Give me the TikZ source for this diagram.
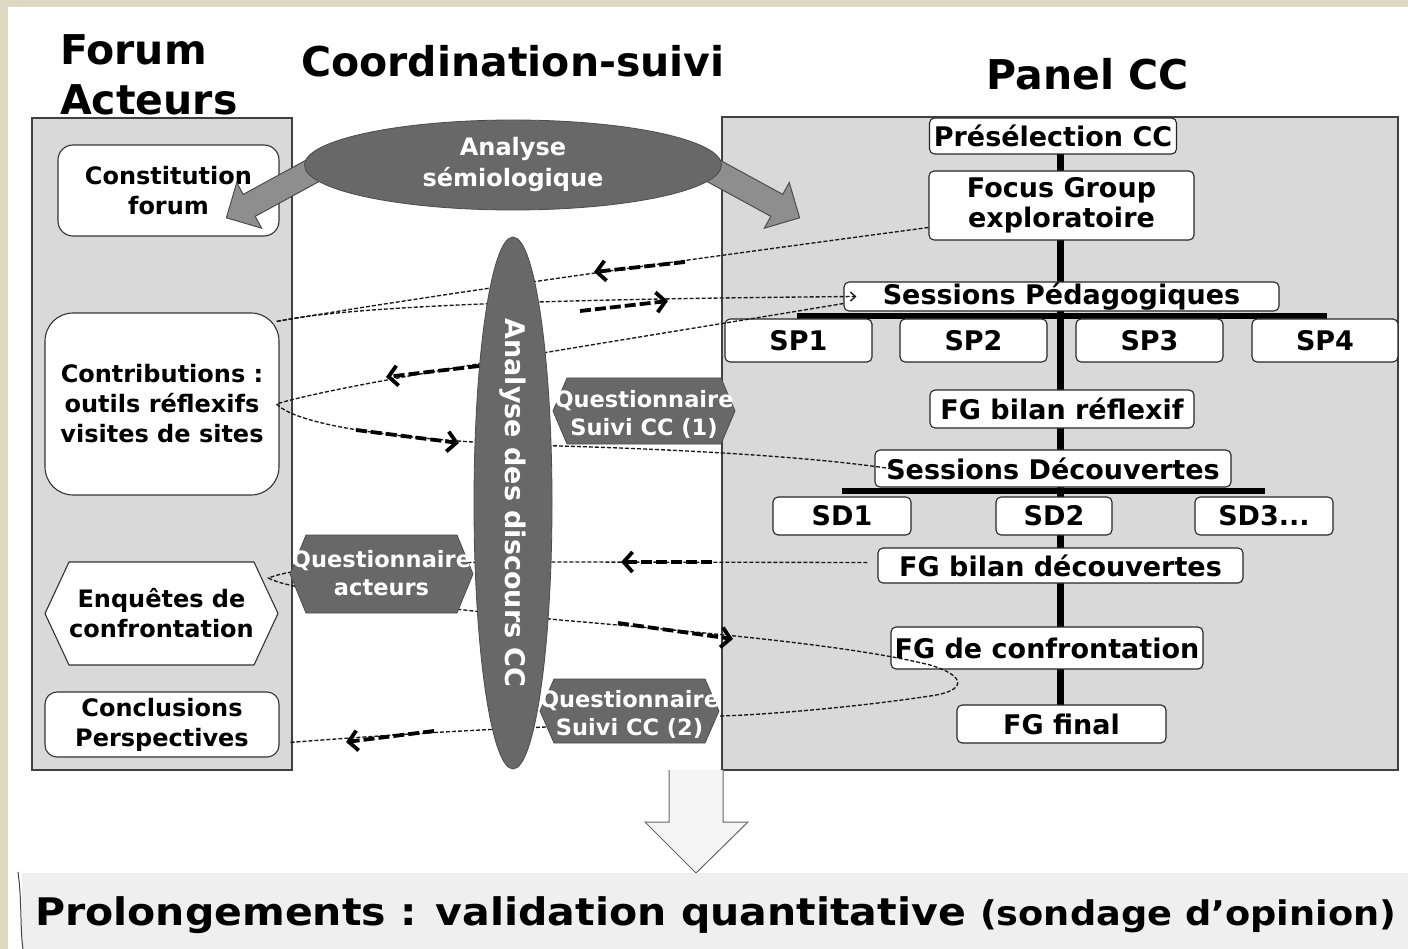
\documentclass[tikz,border=0pt]{standalone}
\usepackage{fontspec}
\setmainfont{DejaVu Sans}
\newfontfamily\widefont[FakeStretch=1.08]{DejaVu Sans}
\usetikzlibrary{shapes.geometric,arrows.meta}
\definecolor{beige}{HTML}{DDD9C3}
\definecolor{panelgray}{HTML}{D9D9D9}
\definecolor{darkfill}{HTML}{686868}
\definecolor{arrowgray}{HTML}{8E8E8E}
\definecolor{bannergray}{HTML}{EFEFEF}
\newcommand{\fsz}[2]{\fontsize{#1}{#2}\selectfont}
\newcommand{\hexat}[6]{\path[#1] ({#2-#4},#3) -- ({#2-#4+#6},{#3-#5}) -- ({#2+#4-#6},{#3-#5}) -- ({#2+#4},#3) -- ({#2+#4-#6},{#3+#5}) -- ({#2-#4+#6},{#3+#5}) -- cycle;}
\begin{document}
\begin{tikzpicture}[x=1pt,y=-1pt,
  panel/.style={draw=black!75, fill=panelgray, line width=1.3pt},
  rbox/.style={draw=black!85, fill=white, rounded corners=5pt, line width=1.1pt, inner sep=0pt, align=center, font=\fsz{27}{30}\bfseries},
  lbox/.style={draw=black!80, fill=white, line width=1.1pt, inner sep=0pt, align=center, font=\fsz{24}{30}\bfseries},
  darkshape/.style={fill=darkfill, draw=black!70, line width=0.8pt},
  whitetxt/.style={text=white, font=\fsz{24}{31}\bfseries, align=center, inner sep=0pt},
  qtxt/.style={text=white, font=\fsz{22.5}{28}\bfseries, align=center, inner sep=0pt},
  thread/.style={draw=black!90, line width=1.35pt, dash pattern=on 4pt off 2pt},
  fatarrow/.style={draw=black, line width=3.8pt, dash pattern=on 11pt off 4pt, -{Straight Barb[length=9pt,width=20pt]}},
  garrow/.style={fill=arrowgray, draw=black!70, line width=1pt},
  trunk/.style={line width=7pt, draw=black},
  bar/.style={line width=6pt, draw=black},
  title/.style={font=\fsz{41}{50}\bfseries, inner sep=0pt}
]
\useasboundingbox (0,0) rectangle (1408,949);
\fill[white] (0,0) rectangle (1408,949);
\fill[beige] (0,0) rectangle (1408,7);
\fill[beige] (0,0) rectangle (8,949);

% titles
\node[title, anchor=north west, align=left] (tforum) at (60,34) {Forum\\Acteurs};
\node[title, anchor=base] (tcoord) at (513,77) {Coordination-suivi};
\node[title, anchor=base] (tpanel) at (1088,90) {Panel CC};

% panels
\draw[panel] (32,118) rectangle (292,770);
\draw[panel] (722,117) rectangle (1398,770);

% bottom banner and down arrow
\fill[bannergray] (22,873) rectangle (1408,949);
\draw[black!75, line width=1pt] (18,872) .. controls (22,900) and (20,930) .. (23,949);
\fill[bannergray!60!white] (669,770) -- (669,822) -- (645,822) -- (696,873) -- (748,822) -- (723,822) -- (723,770) -- cycle;
\draw[black!60, line width=1pt] (669,770) -- (669,822) -- (645,822) -- (696,873) -- (748,822) -- (723,822) -- (723,770);
\node[anchor=base west, inner sep=0pt] (prol) at (35,925) {\widefont\bfseries\fsz{38}{40}Prolongements : validation quantitative \fsz{34}{40}(sondage d’opinion)};

% tree lines
\coordinate (trunkx) at (1060,0);
\draw[trunk] (trunkx |- 0,154) -- (trunkx |- 0,705);
\draw[bar] (797,316) -- (1327,316);
\draw[bar] (842,491) -- (1265,491);

% right boxes
\node[rbox, minimum width=247pt, minimum height=36pt] (pre) at (1053,136) {Présélection CC};
\node[rbox, minimum width=265pt, minimum height=69pt] (fge) at (1061.5,205.5) {Focus Group\\exploratoire};
\node[rbox, minimum width=435pt, minimum height=29pt] (sp) at (1061.5,296.5) {Sessions Pédagogiques};
\node[rbox, minimum width=147pt, minimum height=43pt] (sp1) at (798.5,340.5) {SP1};
\node[rbox, minimum width=147pt, minimum height=43pt] (sp2) at (973.5,340.5) {SP2};
\node[rbox, minimum width=147pt, minimum height=43pt] (sp3) at (1149.5,340.5) {SP3};
\node[rbox, minimum width=146pt, minimum height=43pt] (sp4) at (1325,340.5) {SP4};
\node[rbox, minimum width=264pt, minimum height=38pt] (fgbr) at (1062,409) {FG bilan réflexif};
\node[rbox, minimum width=356pt, minimum height=37pt] (sd) at (1053,468.5) {Sessions Découvertes};
\node[rbox, minimum width=138pt, minimum height=38pt] (sd1) at (842,516) {SD1};
\node[rbox, minimum width=116pt, minimum height=38pt] (sd2) at (1054,516) {SD2};
\node[rbox, minimum width=138pt, minimum height=38pt] (sd3) at (1264,516) {SD3...};
\node[rbox, minimum width=365pt, minimum height=35pt] (fgbd) at (1060.5,565.5) {FG bilan découvertes};
\node[rbox, minimum width=312pt, minimum height=42pt] (fgc) at (1047,648) {FG de confrontation};
\node[rbox, minimum width=209pt, minimum height=38pt] (fgf) at (1061.5,724) {FG final};

% left boxes
\node[lbox, rounded corners=15pt, minimum width=221pt, minimum height=91pt] (cons) at (168.5,190.5) {Constitution\\forum};
\node[lbox, rounded corners=28pt, minimum width=234pt, minimum height=182pt] (contr) at (162,404) {Contributions :\\outils réflexifs\\visites de sites};
\hexat{draw=black!80, fill=white, line width=1.1pt}{161.5}{613.5}{116.5}{51.5}{24}
\node[lbox, draw=none, fill=none, minimum width=233pt, minimum height=103pt] (enq) at (161.5,613) {Enquêtes de\\confrontation};
\node[lbox, rounded corners=12pt, minimum width=234pt, minimum height=65pt] (concl) at (162,724.5) {Conclusions\\Perspectives};

% big gray arrows from semiological analysis
\begin{scope}[shift={(689,157.5)}, rotate=-28.6]
\draw[garrow] (0,12.5) -- (100,12.5) -- (100,26) -- (126,0) -- (100,-26) -- (100,-12.5) -- (0,-12.5) -- cycle;
\end{scope}
\begin{scope}[shift={(337,157.5)}, rotate=-151.4]
\draw[garrow] (0,12.5) -- (100,12.5) -- (100,26) -- (126,0) -- (100,-26) -- (100,-12.5) -- (0,-12.5) -- cycle;
\end{scope}
\node[ellipse, darkshape, minimum width=417pt, minimum height=90pt, inner sep=0pt] (sem) at (513,165) {};
\node[whitetxt] (semt) at (513,164) {Analyse\\sémiologique};

% thin dashed threads
\draw[thread] ([yshift=-22pt]fge.west) .. controls (700,258) and (450,292) .. ([shift={(-3pt,-9pt)}]contr.north east);
\draw[thread, -{Straight Barb[length=5pt,width=9pt]}] ([shift={(-3pt,-9pt)}]contr.north east) .. controls (350,306) and (550,299) .. ([xshift=13pt]sp.west);
\draw[thread] ([yshift=-7pt]sp.west) .. controls (600,344) and (340,384) .. ([xshift=-3pt]contr.east) .. controls (300,428) and (420,442) .. (560,446) .. controls (700,450) and (820,458) .. ([xshift=15pt]sd.west);
\draw[thread] ([shift={(-10pt,3pt)}]fgbd.west) -- (560,562) .. controls (400,562) and (300,565) .. ([shift={(-10pt,35pt)}]enq.east) .. controls (290,591) and (420,606) .. (560,620) .. controls (700,632) and (850,645) .. (930,665) .. controls (967,676) and (967,691) .. (930,696) .. controls (850,708) and (760,715) .. (720,716);
\draw[thread] (600,725) .. controls (450,730) and (350,738) .. ([shift={(9pt,-18pt)}]concl.east);

% vertical ellipse and questionnaires
\node[ellipse, darkshape, rotate=-90, minimum width=532pt, minimum height=78pt, inner sep=0pt, text=white, font=\fsz{27}{30}\bfseries] (disc) at (513,503) {Analyse des discours CC};
\hexat{darkshape}{644}{411}{91}{33}{14}
\node[qtxt] (q1) at (644,414) {Questionnaire\\Suivi CC (1)};
\hexat{darkshape}{381.5}{574}{91.5}{39}{16}
\node[qtxt] (qa) at (381.5,573) {Questionnaire\\acteurs};
\hexat{darkshape}{629.5}{711}{89.5}{32}{14}
\node[qtxt] (q2) at (629.5,714.5) {Questionnaire\\Suivi CC (2)};

% thick dashed arrows
\draw[fatarrow] (685,262) -- (594,272);
\draw[fatarrow] (580,311) -- (668,301);
\draw[fatarrow] (479,366) -- (386,377);
\draw[fatarrow] (356,430) -- (459,443);
\draw[fatarrow] (712,562) -- (621,562);
\draw[fatarrow] (618,623) -- (733,639);
\draw[fatarrow] (434,731) -- (346,742);
\end{tikzpicture}
\end{document}
